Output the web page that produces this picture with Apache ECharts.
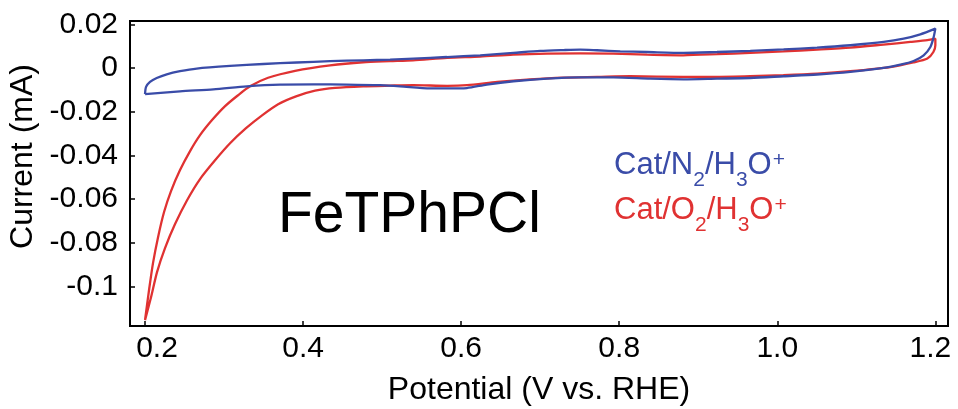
<!DOCTYPE html>
<html>
<head>
<meta charset="utf-8">
<script src="https://cdn.jsdelivr.net/npm/echarts@6/dist/echarts.min.js"></script>
<style>html,body{margin:0;padding:0;background:#fff;}#c{width:958px;height:409px;}</style>
</head>
<body>
<div id="c"></div>
<script>
// ---- data (V vs. RHE, mA) ----
const xTicks = [0.2, 0.4, 0.6, 0.8, 1.0, 1.2];
const yTicks = [0.02, 0, -0.02, -0.04, -0.06, -0.08, -0.1];

const n2Potential = [0.2000,0.2013,0.2063,0.2148,0.2275,0.2443,0.2654,0.3076,0.3497,0.3920,0.4342,0.4763,0.5101,0.5396,0.5819,0.6241,0.6662,0.7000,0.7295,0.7506,0.7718,0.8013,0.8351,0.8814,0.9237,0.9658,1.0080,1.0503,1.0924,1.1346,1.1599,1.1810,1.2000,
  1.1979,1.1937,1.1852,1.1725,1.1557,1.1346,1.0924,1.0503,1.0080,0.9658,0.9237,0.8814,0.8392,0.7928,0.7506,0.7085,0.6662,0.6325,0.6072,0.5819,0.5608,0.5228,0.4975,0.4553,0.4130,0.3709,0.3287,0.2865,0.2443,0.2000];
const n2Current = [-0.0119,-0.0086,-0.0063,-0.0045,-0.0028,-0.0014,-0.0002,0.0010,0.0019,0.0026,0.0032,0.0036,0.0039,0.0044,0.0051,0.0059,0.0070,0.0079,0.0083,0.0085,0.0082,0.0077,0.0074,0.0070,0.0074,0.0079,0.0086,0.0094,0.0105,0.0120,0.0135,0.0155,0.0181,
  0.0143,0.0097,0.0059,0.0033,0.0016,0.0001,-0.0017,-0.0029,-0.0037,-0.0045,-0.0048,-0.0051,-0.0048,-0.0042,-0.0042,-0.0048,-0.0060,-0.0075,-0.0091,-0.0093,-0.0093,-0.0083,-0.0078,-0.0075,-0.0074,-0.0075,-0.0083,-0.0097,-0.0106,-0.0119];

const o2Potential = [0.2000,0.2076,0.2152,0.2253,0.2380,0.2532,0.2696,0.2886,0.3076,0.3278,0.3481,0.3684,0.3911,0.4152,0.4405,0.4759,0.5101,0.5392,0.5823,0.6076,0.6456,0.6873,0.7291,0.7722,0.8139,0.8810,0.9241,0.9658,1.0076,1.0506,1.0924,1.1430,1.1722,1.1899,1.1975,1.2000,1.2000,
  1.1899,1.1684,1.1342,1.0924,1.0506,1.0076,0.9658,0.9241,0.8810,0.8354,0.7924,0.7506,0.7089,0.6658,0.6241,0.5823,0.5392,0.5101,0.4759,0.4342,0.3899,0.3557,0.3329,0.3177,0.3013,0.2848,0.2696,0.2570,0.2443,0.2329,0.2241,0.2165,0.2101,0.2051,0.2000];
const o2Current = [-0.1154,-0.1049,-0.0934,-0.0824,-0.0714,-0.0605,-0.0508,-0.0422,-0.0344,-0.0275,-0.0216,-0.0165,-0.0129,-0.0103,-0.0090,-0.0083,-0.0080,-0.0078,-0.0081,-0.0078,-0.0063,-0.0051,-0.0043,-0.0040,-0.0037,-0.0040,-0.0040,-0.0037,-0.0032,-0.0025,-0.0014,0.0005,0.0026,0.0044,0.0074,0.0105,0.0135,
  0.0128,0.0120,0.0108,0.0094,0.0085,0.0077,0.0070,0.0064,0.0059,0.0062,0.0067,0.0068,0.0067,0.0062,0.0053,0.0047,0.0036,0.0032,0.0027,0.0013,-0.0012,-0.0044,-0.0083,-0.0124,-0.0174,-0.0238,-0.0307,-0.0380,-0.0467,-0.0563,-0.0659,-0.0774,-0.0893,-0.1016,-0.1154];

const BLUE = '#3a4ca8';
const RED = '#e03232';
const FONT = "'Liberation Sans', Arial, Helvetica, sans-serif";

function zip(a, b) { return a.map((v, i) => [v, b[i]]); }

function legendRich(color) {
  return {
    m: { fontSize: 31, lineHeight: 32, verticalAlign: 'top', fill: color, fontFamily: FONT },
    s: { fontSize: 21, lineHeight: 21, padding: [20, 0, 0, 0], verticalAlign: 'top', fill: color, fontFamily: FONT },
    p: { fontSize: 21, lineHeight: 21, padding: [0, 0, 0, 1], verticalAlign: 'top', fill: color, fontFamily: FONT }
  };
}

const chart = echarts.init(document.getElementById('c'), null, { renderer: 'canvas' });
chart.setOption({
  animation: false,
  backgroundColor: '#fff',
  grid: { left: 130, right: 10, top: 21, bottom: 83, show: true, borderColor: '#000', borderWidth: 2, outerBoundsMode: 'none' },
  xAxis: {
    type: 'value', min: 0.181, max: 1.216,
    name: 'Potential (V vs. RHE)', nameLocation: 'middle', nameGap: 48,
    nameTextStyle: { fontSize: 32, color: '#000', fontFamily: FONT },
    axisLine: { show: true, onZero: false, lineStyle: { color: '#000', width: 2 } },
    axisTick: { show: true, inside: true, length: 5, customValues: xTicks, lineStyle: { color: '#000', width: 1.5 } },
    axisLabel: {
      customValues: xTicks, fontSize: 30, color: '#000', fontFamily: FONT, margin: 8,
      formatter: v => {
        const t = v.toFixed(1);
        if (Math.abs(v - 0.2) < 1e-9) return '{first|' + t + '}';
        if (Math.abs(v - 1.2) < 1e-9) return '{last|' + t + '}';
        return t;
      },
      rich: {
        first: { fontSize: 30, fontFamily: FONT, color: '#000', padding: [0, 0, 0, 24] },
        last: { fontSize: 30, fontFamily: FONT, color: '#000', padding: [0, 10, 0, 0] }
      }
    },
    splitLine: { show: false }
  },
  yAxis: {
    type: 'value', min: -0.1181, max: 0.0216,
    name: 'Current (mA)', nameLocation: 'middle', nameGap: 85,
    nameTextStyle: { fontSize: 32, color: '#000', fontFamily: FONT, padding: [0, 0, 0, 34] },
    axisLine: { show: true, onZero: false, lineStyle: { color: '#000', width: 2 } },
    axisTick: { show: true, inside: true, length: 5, customValues: yTicks, lineStyle: { color: '#000', width: 1.5 } },
    axisLabel: { customValues: yTicks, fontSize: 30, color: '#000', fontFamily: FONT, margin: 12, padding: [7, 0, 0, 0],
      formatter: v => (Math.abs(v) < 1e-9 ? '0' : String(Math.round(v * 100) / 100)) },
    splitLine: { show: false }
  },
  series: [
    { name: 'Cat/N2/H3O+', type: 'line', data: zip(n2Potential, n2Current), showSymbol: false, smooth: 0.25,
      lineStyle: { color: BLUE, width: 2.3 }, itemStyle: { color: BLUE }, z: 3 },
    { name: 'Cat/O2/H3O+', type: 'line', data: zip(o2Potential, o2Current), showSymbol: false, smooth: 0.25,
      lineStyle: { color: RED, width: 2.3 }, itemStyle: { color: RED }, z: 2 }
  ],
  graphic: [
    { type: 'text', x: 278, y: 216, style: { text: 'FeTPhPCl', fontSize: 57, fontFamily: FONT, fill: '#000', verticalAlign: 'middle' } },
    { type: 'text', x: 614, y: 149.5, style: { text: '{m|Cat/N}{s|2}{m|/H}{s|3}{m|O}{p|+}', rich: legendRich(BLUE), fill: BLUE, verticalAlign: 'top' } },
    { type: 'text', x: 614, y: 195, style: { text: '{m|Cat/O}{s|2}{m|/H}{s|3}{m|O}{p|+}', rich: legendRich(RED), fill: RED, verticalAlign: 'top' } }
  ]
});
</script>
</body>
</html>
